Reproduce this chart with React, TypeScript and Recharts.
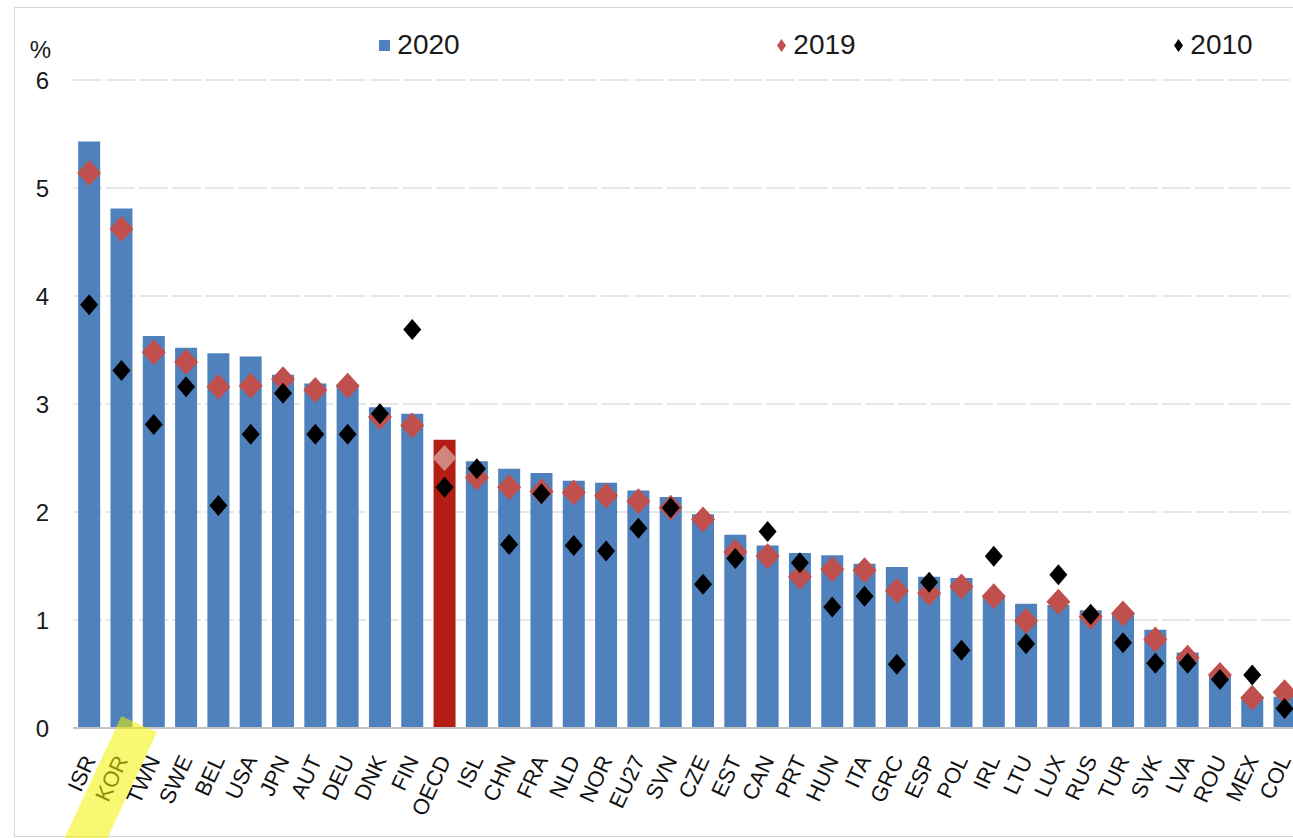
import React from "react";
import {
    ComposedChart,
    Bar,
    Line,
    Cell,
    XAxis,
    YAxis,
    CartesianGrid,
    Legend,
} from "recharts";

// Gross domestic expenditure on R&D, % of GDP
const countries = [
    "ISR", "KOR", "TWN", "SWE", "BEL", "USA", "JPN", "AUT", "DEU", "DNK",
    "FIN", "OECD", "ISL", "CHN", "FRA", "NLD", "NOR", "EU27", "SVN", "CZE",
    "EST", "CAN", "PRT", "HUN", "ITA", "GRC", "ESP", "POL", "IRL", "LTU",
    "LUX", "RUS", "TUR", "SVK", "LVA", "ROU", "MEX", "COL", "CHL",
];
const gerd2020 = [
    5.43, 4.81, 3.63, 3.52, 3.47, 3.44, 3.27, 3.19, 3.18, 2.97,
    2.91, 2.67, 2.47, 2.40, 2.36, 2.29, 2.27, 2.20, 2.14, 1.98,
    1.79, 1.69, 1.62, 1.60, 1.52, 1.49, 1.40, 1.39, 1.23, 1.15,
    1.14, 1.09, 1.06, 0.91, 0.70, 0.48, 0.29, 0.29, 0.28,
];
const gerd2019 = [
    5.14, 4.62, 3.48, 3.39, 3.16, 3.17, 3.23, 3.13, 3.17, 2.88,
    2.80, 2.50, 2.32, 2.23, 2.19, 2.18, 2.15, 2.10, 2.04, 1.93,
    1.63, 1.59, 1.40, 1.47, 1.46, 1.27, 1.25, 1.31, 1.22, 0.99,
    1.17, 1.03, 1.06, 0.82, 0.65, 0.49, 0.28, 0.33, 0.34,
];
const gerd2010 = [
    3.92, 3.31, 2.81, 3.16, 2.06, 2.72, 3.10, 2.72, 2.72, 2.91,
    3.69, 2.23, 2.40, 1.70, 2.17, 1.69, 1.64, 1.85, 2.04, 1.33,
    1.57, 1.82, 1.53, 1.12, 1.22, 0.59, 1.35, 0.72, 1.59, 0.78,
    1.42, 1.05, 0.79, 0.60, 0.60, 0.45, 0.49, 0.18, 0.33,
];
const yTicks = [0, 1, 2, 3, 4, 5, 6];
const seriesLabels = ["2020", "2019", "2010"];
const highlighted = "KOR";
const average = "OECD";

const BLUE = "#4F81BD";
const RED = "#C0504D";
const OECD_RED = "#B31E14";
const FONT = "'Liberation Sans', Arial, sans-serif";

const data = countries.map((country, i) => ({
    country,
    y2020: gerd2020[i],
    y2019: gerd2019[i],
    y2010: gerd2010[i],
}));

const diamondDot = (color: string, w: number, h: number) => (props: any) => {
    const { cx, cy, index, payload } = props;
    if (cx == null || cy == null) return <g key={index} />;
    const fill = color === RED && payload.country === average ? "#D0857D" : color;
    return (
        <polygon
            key={index}
            points={`${cx},${cy - h / 2} ${cx + w / 2},${cy} ${cx},${cy + h / 2} ${cx - w / 2},${cy}`}
            fill={fill}
        />
    );
};

const CountryTick = (props: any) => {
    const { x, y, payload } = props;
    return (
        <g transform={`translate(${x + 7},${y + 30})`}>
            <text
                transform="rotate(-65)"
                textAnchor="end"
                fontSize={22}
                fontFamily={FONT}
                fill="#111"
            >
                {payload.value}
            </text>
            {payload.value === highlighted && (
                <rect
                    transform="rotate(-65)"
                    x={-140}
                    y={-25}
                    width={177}
                    height={39}
                    fill="#F2F200"
                    fillOpacity={0.55}
                />
            )}
        </g>
    );
};

const LegendContent = () => {
    const icons = [
        <span style={{ width: 11, height: 11, background: BLUE, display: "inline-block" }} />,
        <svg width={9} height={13}><polygon points="4.5,0 9,6.5 4.5,13 0,6.5" fill={RED} /></svg>,
        <svg width={9} height={13}><polygon points="4.5,0 9,6.5 4.5,13 0,6.5" fill="#000" /></svg>,
    ];
    return (
        <div style={{ display: "flex", paddingLeft: 221, fontFamily: FONT, fontSize: 28, color: "#1a1a1a" }}>
            {seriesLabels.map((label, i) => (
                <div
                    key={label}
                    style={{
                        width: 397,
                        flexShrink: 0,
                        display: "flex",
                        alignItems: "center",
                        justifyContent: "center",
                        gap: 7,
                    }}
                >
                    {icons[i]}
                    <span>{label}</span>
                </div>
            ))}
        </div>
    );
};

const App: React.FunctionComponent = () => {
    return (
        <div
            style={{
                position: "fixed",
                left: 0,
                top: 0,
                width: 1293,
                height: 838,
                overflow: "hidden",
                background: "#fff",
            }}
        >
            <div
                style={{
                    position: "absolute",
                    left: 14,
                    top: 7,
                    width: 1300,
                    height: 828,
                    borderTop: "1px solid #d8d8d8",
                    borderLeft: "1px solid #d8d8d8",
                    borderBottom: "1px solid #d8d8d8",
                }}
            />
            <ComposedChart
                width={1340}
                height={838}
                data={data}
                barCategoryGap="16%"
                margin={{ top: 80, right: 7, left: 8, bottom: 0 }}
                style={{ position: "absolute", left: 0, top: 0 }}
            >
                <CartesianGrid vertical={false} stroke="#cfcfcf" strokeDasharray="29 4" />
                <XAxis
                    dataKey="country"
                    interval={0}
                    height={110}
                    tickLine={false}
                    tickSize={0}
                    axisLine={{ stroke: "#c4c4c4", strokeWidth: 2 }}
                    tick={<CountryTick />}
                />
                <YAxis
                    width={65}
                    domain={[0, 6]}
                    ticks={yTicks}
                    interval={0}
                    axisLine={false}
                    tickLine={false}
                    tickSize={0}
                    tickMargin={24}
                    tick={{ fontSize: 24, fill: "#1a1a1a", fontFamily: FONT }}
                    label={{ value: "%", position: "top", offset: 22, fontSize: 24, fill: "#1a1a1a", fontFamily: FONT }}
                />
                <Legend
                    verticalAlign="middle"
                    align="center"
                    layout="horizontal"
                    wrapperStyle={{ top: 29, left: 0, width: 1340, height: 40 }}
                    content={<LegendContent />}
                />
                <Bar dataKey="y2020" fill={BLUE} isAnimationActive={false}>
                    {data.map((d) => (
                        <Cell key={d.country} fill={d.country === average ? OECD_RED : BLUE} />
                    ))}
                </Bar>
                <Line
                    dataKey="y2019"
                    stroke="none"
                    dot={diamondDot(RED, 24, 26)}
                    activeDot={false}
                    isAnimationActive={false}
                />
                <Line
                    dataKey="y2010"
                    stroke="none"
                    dot={diamondDot("#000", 18, 21)}
                    activeDot={false}
                    isAnimationActive={false}
                />
            </ComposedChart>
        </div>
    );
};

export default App;
